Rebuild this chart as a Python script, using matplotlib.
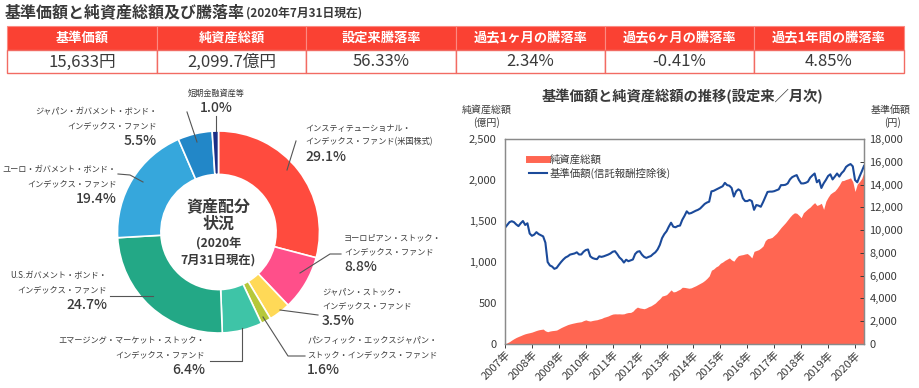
import numpy as np
import matplotlib.pyplot as plt
from matplotlib.patches import Rectangle
from matplotlib.lines import Line2D

plt.rcParams['font.family'] = ['Noto Sans CJK JP', 'DejaVu Sans']

W, H = 920, 388
TXT = '#3a3a3a'

# ---- data ----
table_heads = ['基準価額', '純資産総額', '設定来騰落率', '過去1ヶ月の騰落率', '過去6ヶ月の騰落率', '過去1年間の騰落率']
table_values = ['15,633円', '2,099.7億円', '56.33%', '2.34%', '-0.41%', '4.85%']

alloc_names = ['インスティテューショナル・\nインデックス・ファンド(米国株式)',
               'ヨーロピアン・ストック・\nインデックス・ファンド',
               'ジャパン・ストック・\nインデックス・ファンド',
               'パシフィック・エックスジャパン・\nストック・インデックス・ファンド',
               'エマージング・マーケット・ストック・\nインデックス・ファンド',
               'U.S.ガバメント・ボンド・\nインデックス・ファンド',
               'ユーロ・ガバメント・ボンド・\nインデックス・ファンド',
               'ジャパン・ガバメント・ボンド・\nインデックス・ファンド',
               '短期金融資産等']
alloc_share = [29.1, 8.8, 3.5, 1.6, 6.4, 24.7, 19.4, 5.5, 1.0]
alloc_colors = ['#FF4B3E', '#FF4F8A', '#FFD957', '#B6C83A', '#3EC4A7',
                '#23A886', '#36A7DC', '#2287C8', '#1B2F86']

years = ['2007年', '2008年', '2009年', '2010年', '2011年', '2012年', '2013年',
         '2014年', '2015年', '2016年', '2017年', '2018年', '2019年', '2020年']

# monthly net assets (億円)
net_assets = [0, 15, 29, 48, 65, 80, 92, 103, 115, 125, 132, 138,
              145, 155, 165, 173, 178, 182, 160, 150, 158, 163, 166, 170,
              185, 200, 213, 225, 237, 245, 252, 258, 264, 268, 272, 285,
              294, 285, 280, 287, 292, 296, 305, 312, 325, 333, 342, 355,
              365, 368, 367, 368, 366, 368, 378, 384, 385, 400, 430, 450,
              440, 435, 430, 440, 455, 465, 482, 500, 528, 552, 585, 592,
              602, 630, 660, 635, 640, 655, 668, 692, 690, 685, 680, 685,
              698, 710, 725, 740, 755, 775, 800, 830, 900, 915, 940, 955,
              985, 1000, 1020, 1035, 1050, 1025, 1010, 1050, 1078, 1085, 1090, 1098,
              1103, 1080, 1050, 1130, 1140, 1150, 1170, 1195, 1260, 1285, 1290, 1300,
              1325, 1350, 1385, 1420, 1450, 1480, 1515, 1550, 1580, 1600, 1595, 1570,
              1540, 1600, 1625, 1650, 1670, 1700, 1724, 1690, 1700, 1716, 1642, 1740,
              1790, 1830, 1850, 1867, 1900, 1940, 1990, 1995, 2007, 2015, 2027, 1980,
              1860, 1950, 1980, 2020, 2099.7]

# monthly NAV (円)
nav = [10210, 10450, 10700, 10780, 10700, 10500, 10350, 10600, 10800, 10450, 10600, 9700,
       9500, 9600, 9820, 9650, 9550, 9450, 8900, 7200, 6900, 6800, 6600, 6680,
       6950, 7200, 7420, 7600, 7700, 7850, 7900, 7950, 8050, 7860, 7860, 8100,
       8250, 8300, 7700, 7550, 7480, 7450, 7700, 7650, 7700, 7770, 7850, 7950,
       8100, 8150, 7900, 7600, 7420, 7150, 7400, 7270, 7350, 7420, 7900, 8100,
       8150, 7850, 7650, 7560, 7650, 7720, 7900, 8050, 8300, 8700, 9300, 9650,
       9900, 10300, 10650, 10300, 10250, 10360, 10400, 10900, 11250, 11650, 11450, 11500,
       11600, 11700, 11780, 11900, 12100, 12300, 12420, 12500, 13400, 13450, 13550, 13650,
       13750, 13850, 14150, 13950, 13900, 13700, 12950, 13400, 13580, 13450, 12800, 12550,
       12550, 12650, 12550, 11780, 12200, 12150, 12050, 12450, 12900, 13350, 13380, 13380,
       13420, 13500, 13580, 13950, 13950, 13980, 14100, 14450, 14650, 14750, 14830, 14400,
       14100, 14100, 14150, 14250, 14600, 14800, 14970, 14200, 14400, 13700, 14100, 14400,
       14750, 14900, 14450, 14700, 14970, 14700, 15000, 15200, 15550, 15700, 15800, 15600,
       14400, 14200, 14700, 15150, 15633]


def fx(x):
    return x / W


def fy(y):
    return 1 - y / H


fig = plt.figure(figsize=(W / 100, H / 100), dpi=100)

# ---- header title ----
fig.text(fx(5), fy(12), '基準価額と純資産総額及び騰落率', fontsize=11.5, fontweight='bold',
         color=TXT, va='center')
fig.text(fx(246), fy(13), '(2020年7月31日現在)', fontsize=8.5, fontweight='bold',
         color=TXT, va='center')

# ---- table ----
col_x = [7, 157, 306, 456, 605, 754, 904]
for i in range(6):
    x0, x1 = col_x[i], col_x[i + 1]
    fig.add_artist(Rectangle((fx(x0), fy(50)), fx(x1 - x0), (50 - 26) / H,
                             transform=fig.transFigure, facecolor='#FA4133',
                             edgecolor='#FB8A82', lw=0.8))
    fig.add_artist(Rectangle((fx(x0), fy(73)), fx(x1 - x0), (73 - 50) / H,
                             transform=fig.transFigure, facecolor='white',
                             edgecolor='#F26B63', lw=1.0))
    fig.text(fx((x0 + x1) / 2), fy(38), table_heads[i], fontsize=9.5, fontweight='bold',
             color='white', ha='center', va='center')
    fig.text(fx((x0 + x1) / 2), fy(62), table_values[i], fontsize=12,
             color=TXT, ha='center', va='center')

# ---- donut ----
cx, cy, R = 218.5, 232, 101
ax_d = fig.add_axes([fx(cx - R), fy(cy + R), 2 * R / W, 2 * R / H])
ax_d.pie(alloc_share, colors=alloc_colors, startangle=90, counterclock=False, radius=1,
         wedgeprops=dict(width=0.43, edgecolor='white', linewidth=1.2))
ax_d.set_xlim(-1, 1)
ax_d.set_ylim(-1, 1)
ax_d.axis('off')

fig.text(fx(cx), fy(206), '資産配分', fontsize=11.5, fontweight='bold', color=TXT, ha='center', va='center')
fig.text(fx(cx), fy(224), '状況', fontsize=11.5, fontweight='bold', color=TXT, ha='center', va='center')
fig.text(fx(cx), fy(243), '(2020年', fontsize=8.8, fontweight='bold', color=TXT, ha='center', va='center')
fig.text(fx(cx), fy(260), '7月31日現在)', fontsize=8.8, fontweight='bold', color=TXT, ha='center', va='center')

# label layout: (x, y of first line, ha)
label_pos = [(305, 128, 'left'), (344, 238, 'left'), (322, 292, 'left'),
             (307, 341, 'left'), (205, 341, 'right'), (107, 276, 'right'),
             (117, 170, 'right'), (157, 112, 'right'), (216, 93, 'center')]
leaders = [[(296, 141), (287, 170)],
           [(341, 254), (330, 254), (300, 273)],
           [(318, 315), (280, 310)],
           [(305, 356), (288, 356), (263, 317)],
           [(210, 361), (242, 361), (242, 328)],
           [(110, 296), (153, 296)],
           [(118, 174), (130, 175), (143, 182)],
           [(187, 112), (197, 142)],
           [(216, 116), (216, 131)]]

for name, share, (lx, ly, ha), pts in zip(alloc_names, alloc_share, label_pos, leaders):
    lines = name.split('\n')
    for k, ln in enumerate(lines):
        fig.text(fx(lx), fy(ly + 13.5 * k), ln, fontsize=5.9, color=TXT, ha=ha, va='center')
    fig.text(fx(lx), fy(ly + 13.5 * len(lines) + 2), f'{share:.1f}%', fontsize=10,
             fontweight='medium', color=TXT, ha=ha, va='center')
    xs = [fx(p[0]) for p in pts]
    ys = [fy(p[1]) for p in pts]
    fig.add_artist(Line2D(xs, ys, transform=fig.transFigure, color='#555555', lw=0.8))

# ---- line / area chart ----
months = np.arange(len(nav))
ax = fig.add_axes([fx(505), fy(344), (864 - 505) / W, (344 - 139) / H])
ax.fill_between(months, 0, net_assets, color='#FF6652', lw=0)
ax.set_xlim(0, len(nav) - 1)
ax.set_ylim(0, 2500)
ax.set_yticks(range(0, 2501, 500))
ax.set_yticklabels([f'{v:,}' for v in range(0, 2501, 500)])
ax.set_xticks(np.arange(len(years)) * 12)
ax.set_xticklabels(years, rotation=45, ha='right', rotation_mode='anchor')

ax2 = ax.twinx()
ax2.plot(months, nav, color='#1B4A9A', lw=1.5)
ax2.set_ylim(0, 18000)
ax2.set_yticks(range(0, 18001, 2000))
ax2.set_yticklabels([f'{v:,}' for v in range(0, 18001, 2000)])

for a in (ax, ax2):
    for s in a.spines.values():
        s.set_color('#8a8a8a')
        s.set_linewidth(0.9)
    a.tick_params(labelsize=8, colors=TXT, length=3, width=0.7)
ax.tick_params(axis='y', length=0, pad=6)
ax2.tick_params(axis='y', direction='in', length=3, pad=4)
ax.tick_params(axis='x', length=3, pad=1)

handles = [Line2D([], [], color='#FF6652', lw=5), Line2D([], [], color='#1B4A9A', lw=1.5)]
ax2.legend(handles, ['純資産総額', '基準価額(信託報酬控除後)'], loc='upper left',
           bbox_to_anchor=(0.04, 0.97), frameon=False, fontsize=7.5, handlelength=1.8,
           handletextpad=0.2, labelspacing=0.3, labelcolor=TXT)

fig.text(fx(683), fy(97), '基準価額と純資産総額の推移(設定来／月次)', fontsize=10.3,
         fontweight='bold', color=TXT, ha='center', va='center')
fig.text(fx(487), fy(110), '純資産総額', fontsize=7.2, color=TXT, ha='center', va='center')
fig.text(fx(487), fy(123), '(億円)', fontsize=7.2, color=TXT, ha='center', va='center')
fig.text(fx(891), fy(110), '基準価額', fontsize=7.2, color=TXT, ha='center', va='center')
fig.text(fx(893), fy(123), '(円)', fontsize=7.2, color=TXT, ha='center', va='center')

fig.savefig('out.png', dpi=100)
